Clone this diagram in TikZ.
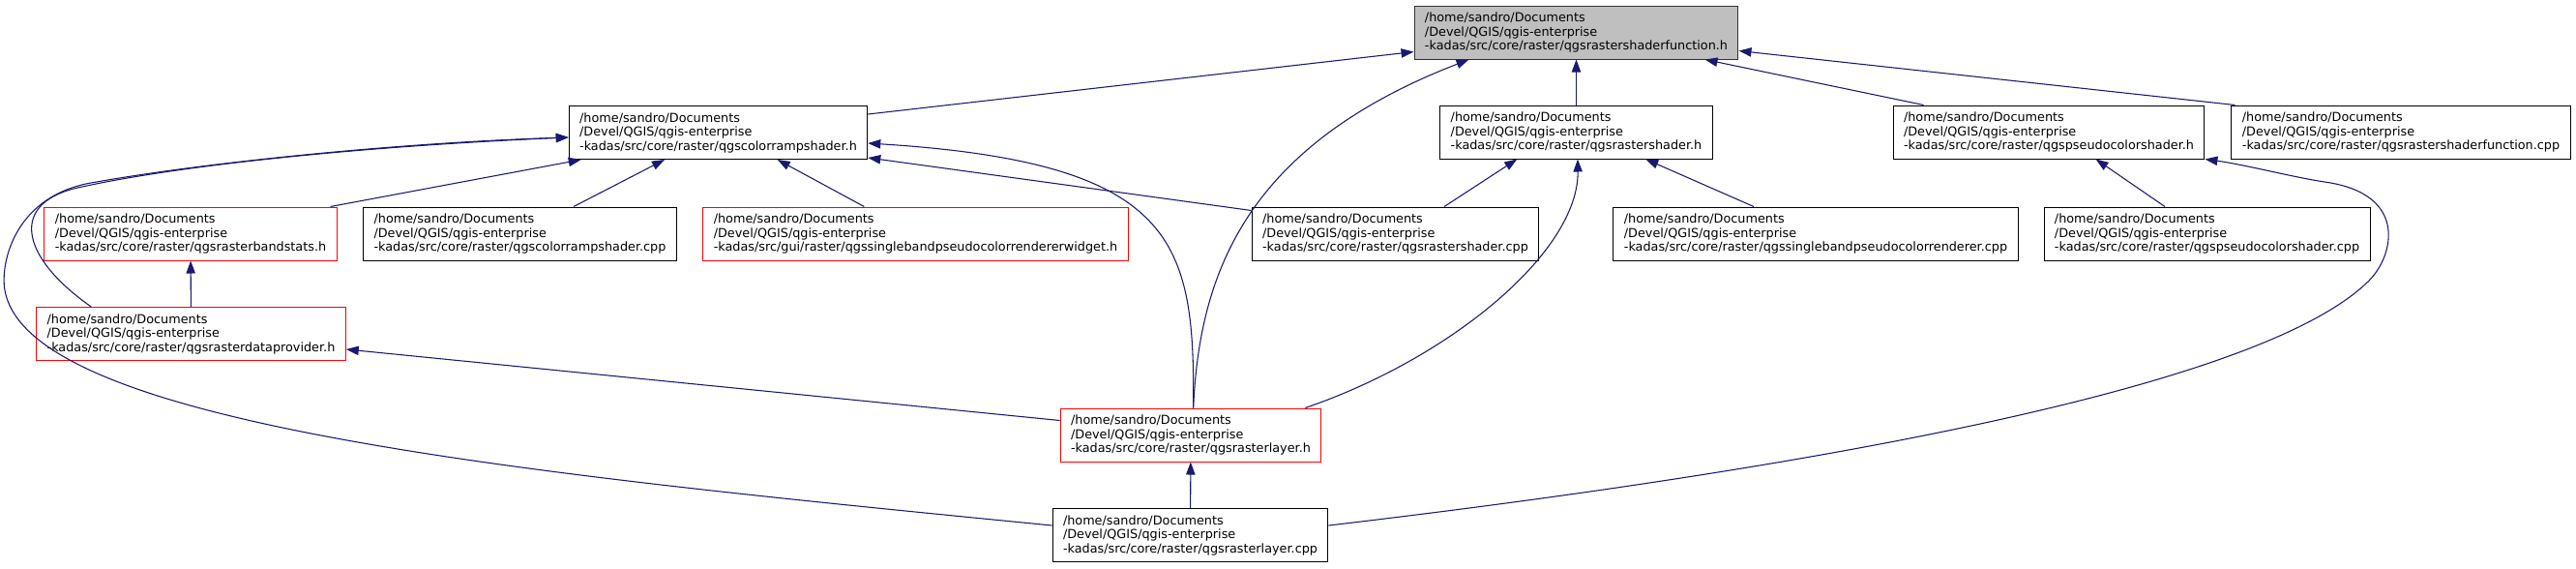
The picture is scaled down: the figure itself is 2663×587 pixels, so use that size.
\documentclass[tikz,border=0pt]{standalone}
\usepackage{fontspec}
\setmainfont{DejaVu Sans}
\usetikzlibrary{arrows.meta,calc}
\definecolor{edgeblue}{HTML}{191970}
\definecolor{rootgray}{HTML}{BFBFBF}
\newcommand{\dgfont}{\fontsize{9.6pt}{10.9pt}\selectfont}

\begin{document}
\begin{tikzpicture}[
        x=0.75pt, y=-0.75pt,
        filebox/.style={draw=black, line width=0.75pt, fill=white, align=left, font=\dgfont, inner xsep=8.2pt, inner ysep=2pt, minimum height=41.25pt},
        truncbox/.style={filebox, draw=red},
        rootbox/.style={filebox, draw=black!80, fill=rootgray},
        incl/.style={draw=edgeblue, line width=0.8pt, -{Triangle[length=9.75pt,width=7pt]}}
    ]

    \def\srcdir{/home/sandro/Documents\\/Devel/QGIS/qgis-enterprise\\-kadas/src/} % common prefix

    \path[use as bounding box, fill=white] (0,0) rectangle (2663,587);

    % rank 0: the header itself
    \node[rootbox] (root) at (1629.5,33.5) {\srcdir core/raster/qgsrastershaderfunction.h};

    % rank 1
    \node[filebox] (crs_h) at (742.5,137) {\srcdir core/raster/qgscolorrampshader.h};
    \node[filebox] (rs_h) at (1629.5,136.5) {\srcdir core/raster/qgsrastershader.h};
    \node[filebox] (pseudo_h) at (2118,136.5) {\srcdir core/raster/qgspseudocolorshader.h};
    \node[filebox] (rsf_cpp) at (2482,136.5) {\srcdir core/raster/qgsrastershaderfunction.cpp};

    % rank 2
    \node[truncbox] (bandstats) at (197,241.5) {\srcdir core/raster/qgsrasterbandstats.h};
    \node[filebox] (crs_cpp) at (537.5,241.5) {\srcdir core/raster/qgscolorrampshader.cpp};
    \node[truncbox] (widget) at (946.5,241.5) {\srcdir gui/raster/qgssinglebandpseudocolorrendererwidget.h};
    \node[filebox] (rs_cpp) at (1442.5,241.5) {\srcdir core/raster/qgsrastershader.cpp};
    \node[filebox] (sbr_cpp) at (1877,241.5) {\srcdir core/raster/qgssinglebandpseudocolorrenderer.cpp};
    \node[filebox] (pseudo_cpp) at (2281.5,241.5) {\srcdir core/raster/qgspseudocolorshader.cpp};

    % rank 3 to 5
    \node[truncbox] (dataprov) at (197.5,345) {\srcdir core/raster/qgsrasterdataprovider.h};
    \node[truncbox] (layer_h) at (1231,449.5) {\srcdir core/raster/qgsrasterlayer.h};
    \node[filebox] (layer_cpp) at (1230.5,553) {\srcdir core/raster/qgsrasterlayer.cpp};

    % edges into qgsrastershaderfunction.h
    \draw[incl] ($(crs_h.north east)+(0,9)$) -- ($(root.south west)+(0,-8)$);
    \draw[incl] ($(layer_h.north west)+(138,0)$) .. controls (1240,280) and (1290,150) .. ($(root.south west)+(57,0)$);
    \draw[incl] (rs_h) -- (root);
    \draw[incl] ($(pseudo_h.north west)+(32,0)$) -- ($(root.south east)+(-35,0)$);
    \draw[incl] ($(rsf_cpp.north west)+(4,0)$) -- ($(root.south east)+(0,-9)$);

    % edges into qgscolorrampshader.h
    \draw[incl] ($(bandstats.north east)+(-7,0)$) -- ($(crs_h.south west)+(13,0)$);
    \draw[incl] ($(crs_cpp.north)+(55.5,0)$) -- ($(crs_h.south)+(-55.5,0)$);
    \draw[incl] ($(widget.north west)+(167,0)$) -- ($(crs_h.south west)+(216,0)$);
    \draw[incl] ($(rs_cpp.north west)+(0,4)$) -- ($(crs_h.south east)+(0,-2)$);
    \draw[incl] ($(layer_h.north west)+(138,0)$) .. controls (1235,250) and (1218,168) .. ($(crs_h.south east)+(0,-17)$);
    \draw[incl] ($(dataprov.north west)+(57,0)$) .. controls (20,265) and (8,208) .. (85,193) .. controls (200,168) and (400,150) .. ($(crs_h.north west)+(0,33)$);
    \draw[incl] ($(layer_cpp.south west)+(0,-38)$) .. controls (550,490) and (30,440) .. (5,300) .. controls (0,272) and (15,200) .. (100,188) .. controls (200,170) and (400,148) .. ($(crs_h.north west)+(0,33)$);

    % the rest
    \draw[incl] (dataprov) -- (bandstats);
    \draw[incl] ($(layer_h.north west)+(0,13)$) -- ($(dataprov.north east)+(0,44)$);
    \draw[incl] ($(rs_cpp.north)+(50.5,0)$) -- ($(rs_h.south west)+(80,0)$);
    \draw[incl] ($(sbr_cpp.north)+(-64,0)$) -- ($(rs_h.south west)+(213,0)$);
    \draw[incl] ($(layer_h.north east)+(-17,0)$) .. controls (1500,370) and (1632,260) .. ($(rs_h.south)+(1.5,0)$);
    \draw[incl] ($(pseudo_cpp.north)+(-43.5,0)$) -- ($(pseudo_h.south west)+(210,0)$);
    \draw[incl] ($(layer_cpp.south east)+(0,-38)$) .. controls (1950,475) and (2349,390) .. (2449,290) .. controls (2475,264) and (2490,200) .. (2403,188) .. controls (2370,183) and (2320,170) .. (pseudo_h.south east);
    \draw[incl] (layer_cpp) -- (layer_h);

\end{tikzpicture}
\end{document}
